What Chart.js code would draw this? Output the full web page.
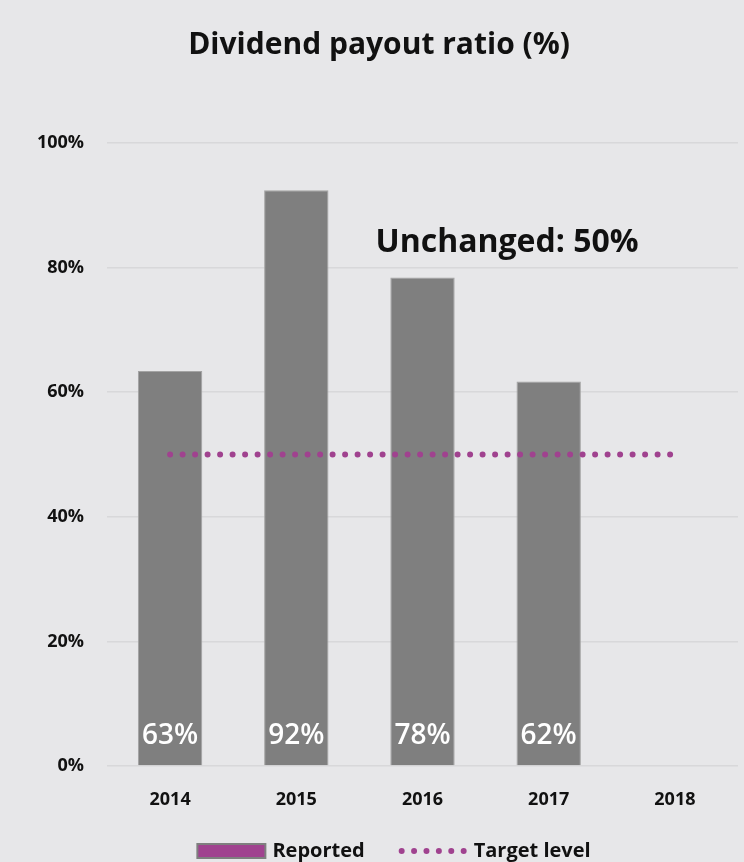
<!DOCTYPE html>
<html lang="en">
<head>
<meta charset="UTF-8">
<title>Dividend payout ratio (%)</title>
<script src="https://cdn.jsdelivr.net/npm/chart.js"></script>
<style>
  html, body { margin: 0; padding: 0; background: #e7e7e9; }
</style>
</head>
<body>
<canvas id="payoutChart" width="744" height="862"></canvas>
<script>
// data
const years = ['2014', '2015', '2016', '2017', '2018'];
const reported = [63.4, 92.4, 78.4, 61.7, null];
const targetLevel = [50, 50, 50, 50, 50];
const yStep = 20;
const yMax = 100;

const FONT = '"Open Sans", "DejaVu Sans", sans-serif';
const PURPLE = '#a0428f';
const BAR_GREY = '#7f7f7f';

// page background
const bgPlugin = {
  id: 'bg',
  beforeDraw(chart) {
    const ctx = chart.ctx;
    ctx.save();
    ctx.fillStyle = '#e7e7e9';
    ctx.fillRect(0, 0, chart.width, chart.height);
    ctx.restore();
  }
};

// white value labels at the foot of each bar + the "Unchanged" note
const labelsPlugin = {
  id: 'barLabels',
  afterDatasetsDraw(chart) {
    const ctx = chart.ctx;
    const meta = chart.getDatasetMeta(0);
    ctx.save();
    ctx.fillStyle = '#ffffff';
    ctx.font = '600 28px ' + FONT;
    ctx.textAlign = 'center';
    ctx.textBaseline = 'middle';
    meta.data.forEach((bar, i) => {
      const v = reported[i];
      if (v == null) return;
      ctx.fillText(Math.round(v) + '%', bar.x, bar.base - 29);
    });

    const xs = chart.scales.x, ys = chart.scales.y;
    ctx.fillStyle = '#111111';
    ctx.font = 'bold 32px ' + FONT;
    ctx.fillText('Unchanged: 50%', xs.getPixelForValue(2.67), ys.getPixelForValue(84));
    ctx.restore();
  }
};

// legend drawn by hand so the boxes match the original
const legendPlugin = {
  id: 'customLegend',
  afterDraw(chart) {
    const ctx = chart.ctx;
    ctx.save();
    ctx.font = 'bold 20px ' + FONT;
    ctx.textBaseline = 'middle';
    ctx.textAlign = 'left';
    const boxW = 68, gapText = 7, gapItem = 34;
    const t1 = 'Reported', t2 = 'Target level';
    const w1 = ctx.measureText(t1).width, w2 = ctx.measureText(t2).width;
    const total = boxW + gapText + w1 + gapItem + boxW + gapText + w2;
    let x = chart.width / 2 + 22 - total / 2;
    const y = chart.height - 11;

    ctx.fillStyle = PURPLE;
    ctx.fillRect(x, y - 7, boxW, 14);
    ctx.strokeStyle = BAR_GREY;
    ctx.lineWidth = 2;
    ctx.strokeRect(x, y - 7, boxW, 14);
    ctx.fillStyle = '#111111';
    ctx.fillText(t1, x + boxW + gapText, y);

    x += boxW + gapText + w1 + gapItem;
    ctx.fillStyle = PURPLE;
    for (let i = 0; i < 6; i++) {
      ctx.beginPath();
      ctx.arc(x + 3 + i * 12.4, y, 3, 0, Math.PI * 2);
      ctx.fill();
    }
    ctx.fillStyle = '#111111';
    ctx.fillText(t2, x + boxW + gapText, y);
    ctx.restore();
  }
};

const ctx = document.getElementById('payoutChart').getContext('2d');
new Chart(ctx, {
  type: 'bar',
  data: {
    labels: years,
    datasets: [
      {
        label: 'Reported',
        data: reported,
        backgroundColor: BAR_GREY,
        borderColor: '#a3a3a3',
        borderWidth: 1,
        barPercentage: 0.51,
        categoryPercentage: 1.0,
        order: 2
      },
      {
        type: 'line',
        label: 'Target level',
        data: targetLevel,
        borderColor: PURPLE,
        borderWidth: 6,
        borderDash: [0, 12.5],
        borderCapStyle: 'round',
        pointRadius: 0,
        fill: false,
        order: 1
      }
    ]
  },
  options: {
    responsive: false,
    animation: false,
    layout: { padding: { left: 20, right: 6, top: 0, bottom: 50 } },
    plugins: {
      legend: { display: false },
      tooltip: { enabled: false },
      title: {
        display: true,
        text: 'Dividend payout ratio (%)',
        color: '#111111',
        font: { family: FONT, size: 30, weight: 'bold' },
        padding: { top: 27, bottom: 80 }
      }
    },
    scales: {
      x: {
        grid: { display: false, drawTicks: false },
        border: { display: false },
        ticks: {
          color: '#111111',
          font: { family: FONT, size: 18, weight: 'bold' },
          padding: 23
        },
        afterFit(scale) { scale.height = 46; }
      },
      y: {
        min: 0,
        max: yMax,
        grid: { color: '#d8d8da', lineWidth: 1.5, drawTicks: false },
        border: { display: false },
        ticks: {
          stepSize: yStep,
          color: '#111111',
          font: { family: FONT, size: 18, weight: 'bold' },
          padding: 23,
          callback: v => v + '%'
        },
        afterFit(scale) { scale.width = 87; }
      }
    }
  },
  plugins: [bgPlugin, labelsPlugin, legendPlugin]
});
</script>
</body>
</html>
